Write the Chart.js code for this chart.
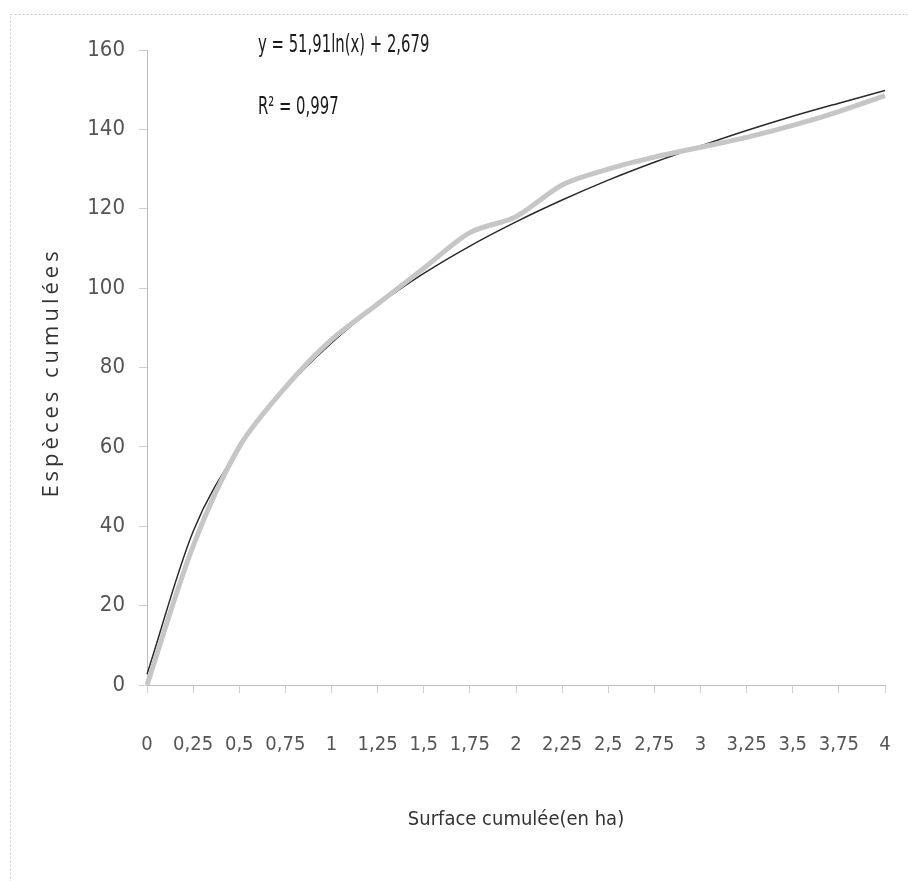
<!DOCTYPE html>
<html>
<head>
<meta charset="utf-8">
<script src="https://cdn.jsdelivr.net/npm/chart.js@4"></script>
<style>
  html, body { margin: 0; padding: 0; background: #fff; }
  #wrap { width: 908px; height: 881px; }
</style>
</head>
<body>
<div id="wrap"><canvas id="chart" width="908" height="881"></canvas></div>
<script>
// données
const surfaces = ['0', '0,25', '0,5', '0,75', '1', '1,25', '1,5', '1,75', '2', '2,25', '2,5', '2,75', '3', '3,25', '3,5', '3,75', '4'];
const especes = [0, 35, 60, 75, 87, 96, 105, 114, 118, 126, 130, 133, 135.5, 138, 141, 144.5, 148.5];
// courbe de tendance logarithmique (valeurs aux points)
const tendance = [2.7, 38.7, 59.7, 74.6, 86.2, 95.7, 103.7, 110.6, 116.7, 122.2, 127.2, 131.7, 135.8, 139.7, 143.3, 146.6, 149.8];
const yTicks = [0, 20, 40, 60, 80, 100, 120, 140, 160];

const equation = 'y = 51,91ln(x) + 2,679';
const r2 = 'R² = 0,997';
const yTitle = 'Espèces cumulées';

const narrow = '"Liberation Sans Narrow", "DejaVu Sans Condensed", sans-serif';

// cadre, titre vertical et texte de l'équation
const extras = {
    id: 'extras',
    beforeDraw(chart) {
        const ctx = chart.ctx;
        ctx.save();
        ctx.strokeStyle = '#c8c8c8';
        ctx.lineWidth = 1;
        ctx.setLineDash([2, 2]);
        ctx.strokeRect(10.5, 14.5, 906, 900);
        ctx.restore();
    },
    afterDraw(chart) {
        const ctx = chart.ctx;
        const area = chart.chartArea;
        ctx.save();
        ctx.fillStyle = '#1a1a1a';
        ctx.font = '25px ' + narrow;
        ctx.textBaseline = 'middle';
        ctx.translate(258, 0);
        ctx.scale(0.66, 1);
        ctx.fillText(equation, 0, 45);
        ctx.fillText(r2, 0, 107);
        ctx.restore();

        // titre de l'axe des y, espacé comme l'original
        ctx.save();
        ctx.fillStyle = '#333';
        ctx.font = '22px "Open Sans", sans-serif';
        ctx.letterSpacing = '4px';
        ctx.textAlign = 'center';
        ctx.textBaseline = 'middle';
        ctx.translate(52, (area.top + area.bottom) / 2 + 5);
        ctx.rotate(-Math.PI / 2);
        ctx.fillText(yTitle, 0, 0);
        ctx.restore();
    }
};

new Chart(document.getElementById('chart'), {
    type: 'line',
    data: {
        labels: surfaces,
        datasets: [{
            label: 'Espèces',
            data: especes,
            borderColor: '#c6c6c6',
            borderWidth: 5,
            pointRadius: 0,
            tension: 0.3,
            fill: false
        }, {
            label: 'Log. (Espèces)',
            data: tendance,
            borderColor: '#2a2a2a',
            borderWidth: 1.5,
            pointRadius: 0,
            cubicInterpolationMode: 'monotone',
            fill: false
        }]
    },
    options: {
        responsive: false,
        animation: false,
        layout: { padding: { left: 10, top: 50, right: 23, bottom: 10 } },
        plugins: {
            legend: { display: false },
            tooltip: { enabled: false }
        },
        scales: {
            x: {
                offset: false,
                grid: { drawOnChartArea: false, tickLength: 8, color: '#cfcfcf' },
                border: { display: true, color: '#bdbdbd', dash: [2, 2] },
                ticks: {
                    padding: 40,
                    maxRotation: 0,
                    autoSkip: false,
                    color: '#555',
                    font: { family: narrow, size: 20 }
                },
                title: {
                    display: true,
                    text: 'Surface cumulée(en ha)',
                    color: '#333',
                    font: { family: narrow, size: 20 },
                    padding: { top: 0, bottom: 39 }
                },
                afterFit(scale) {
                    scale.height = 186;
                    // le padding des étiquettes ne doit pas rétrécir la zone de tracé
                    scale.paddingLeft = 0;
                    scale.paddingRight = 0;
                }
            },
            y: {
                min: 0,
                max: 160,
                afterBuildTicks(scale) { scale.ticks = yTicks.map(v => ({ value: v })); },
                grid: { drawOnChartArea: false, tickLength: 8, color: '#cfcfcf' },
                border: { display: true, color: '#bdbdbd', dash: [2, 2] },
                ticks: {
                    padding: 14,
                    color: '#555',
                    font: { family: narrow, size: 22 }
                },
                afterFit(scale) { scale.width = 137; }
            }
        }
    },
    plugins: [extras]
});
</script>
</body>
</html>
